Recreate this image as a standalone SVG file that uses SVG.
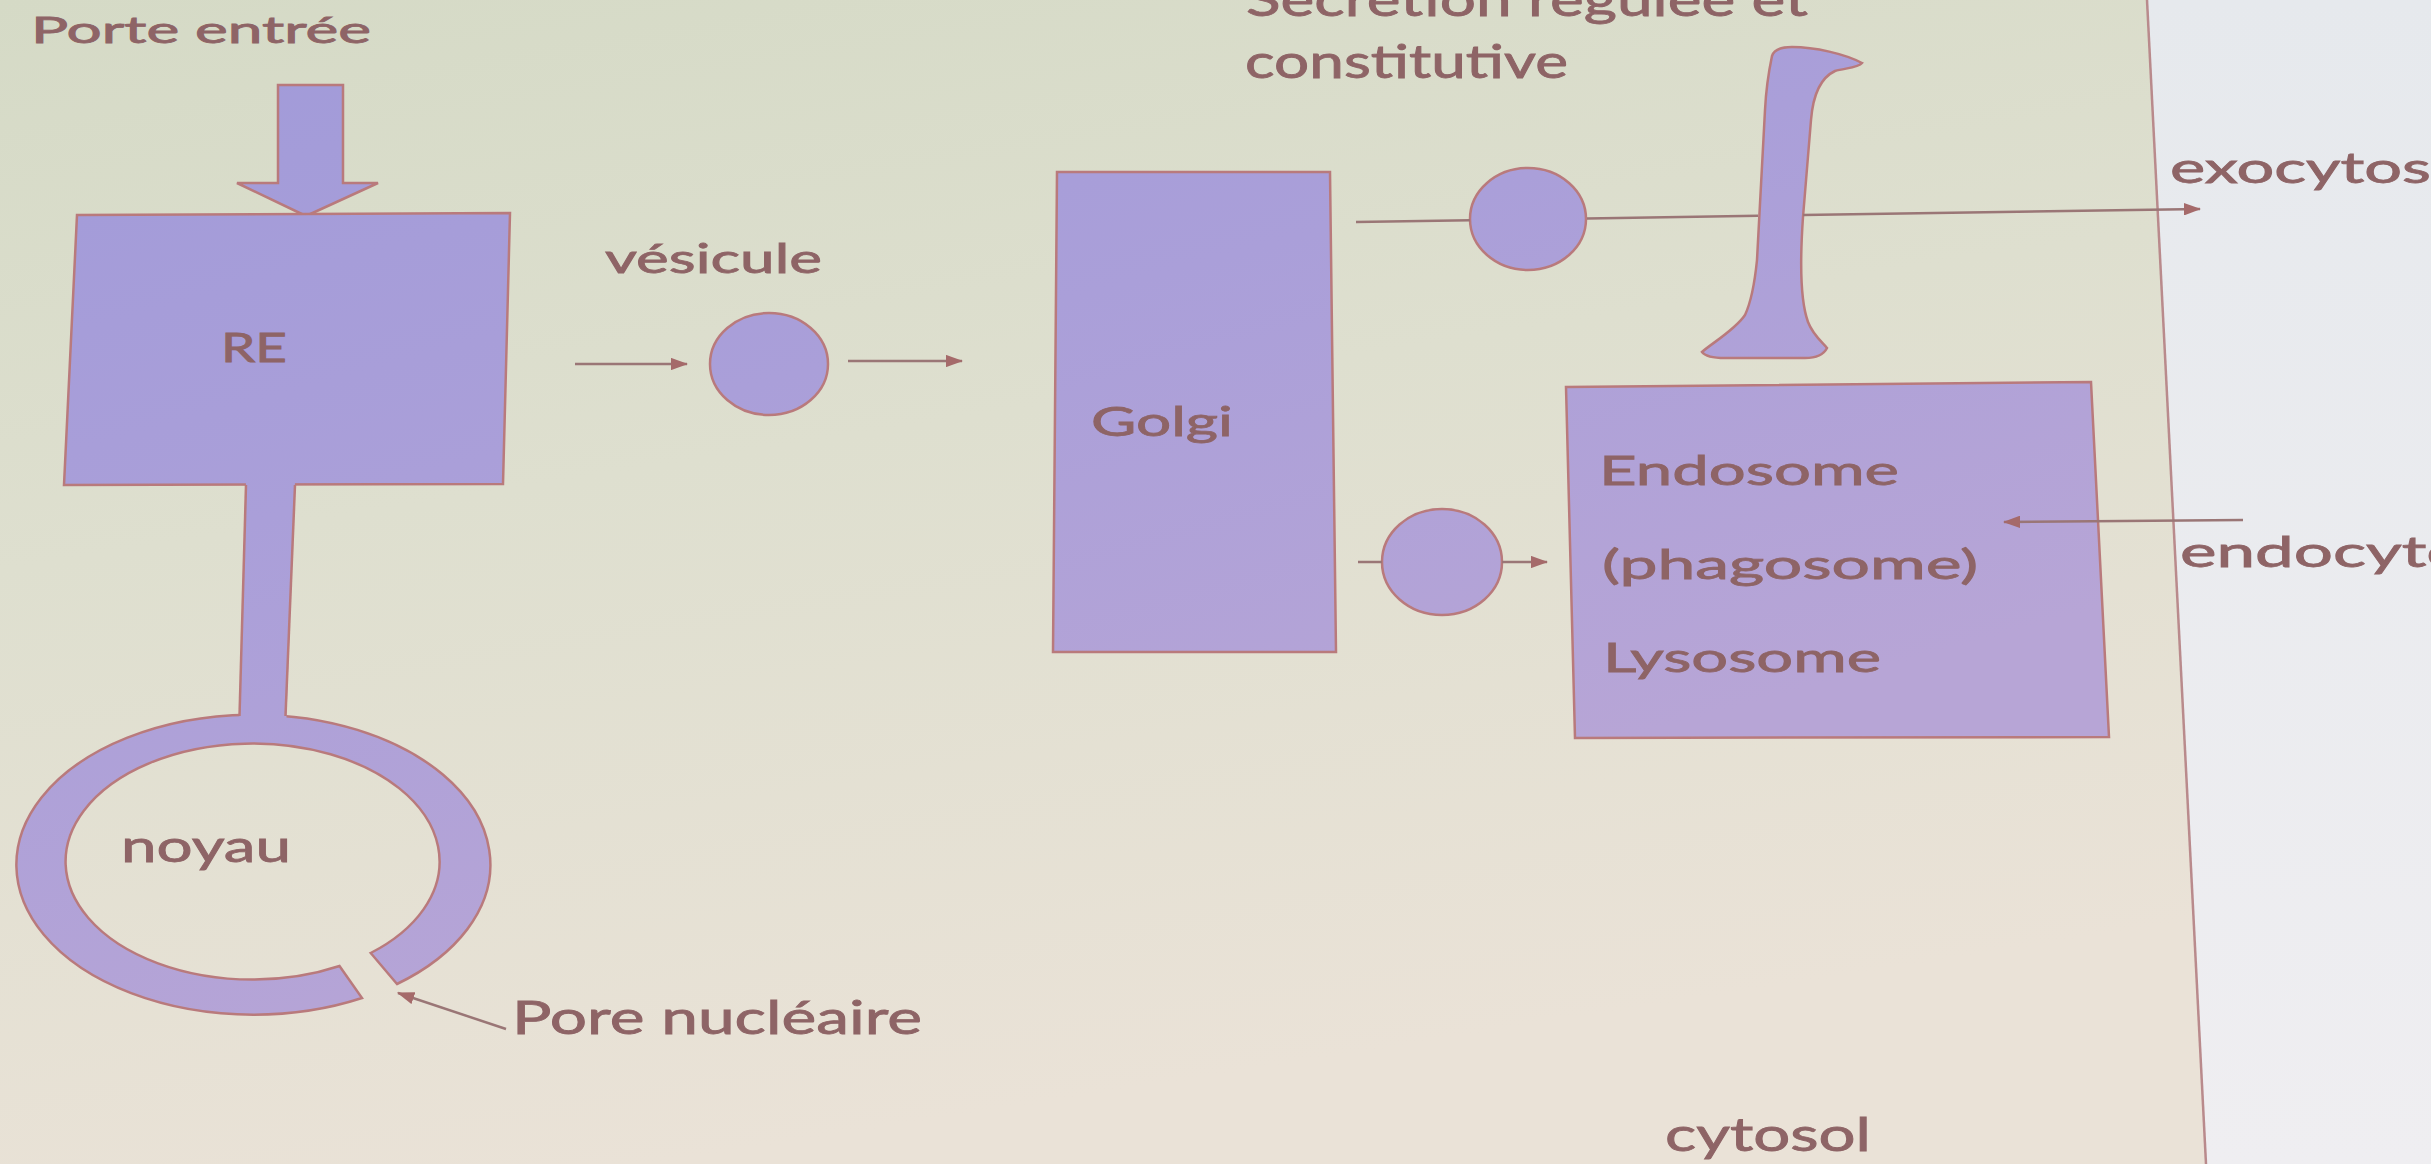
<svg xmlns="http://www.w3.org/2000/svg" width="2431" height="1164" viewBox="0 0 2431 1164">
<defs>
<linearGradient id="bgL" x1="0" y1="0" x2="0.3" y2="1">
<stop offset="0" stop-color="#d5dac6"/>
<stop offset="0.45" stop-color="#dedfcf"/>
<stop offset="1" stop-color="#eae2d7"/>
</linearGradient>
<linearGradient id="bgR" x1="0" y1="0" x2="0" y2="1">
<stop offset="0" stop-color="#e6e9ed"/>
<stop offset="1" stop-color="#efeef1"/>
</linearGradient>
<linearGradient id="shape" gradientUnits="userSpaceOnUse" x1="0" y1="0" x2="300" y2="1100">
<stop offset="0" stop-color="#a09ad9"/>
<stop offset="0.5" stop-color="#aa9fd9"/>
<stop offset="1" stop-color="#b7a5d6"/>
</linearGradient>
<marker id="ah" markerWidth="7" markerHeight="5" refX="6.5" refY="2.5" orient="auto" markerUnits="strokeWidth">
<path d="M0,0 L7,2.5 L0,5 Z" fill="#a56a6a"/>
</marker>
<style>
.s{fill:url(#shape);stroke:#b97a7c;stroke-width:2.5}
.t{font-family:Lato,"Liberation Sans",sans-serif;fill:#8e6466;stroke:#8e6466;stroke-width:0.8}
.c{fill:none;stroke:#9a7676;stroke-width:2.5}
</style>
</defs>
<rect x="0" y="0" width="2431" height="1164" fill="url(#bgR)"/>
<polygon points="0,0 2147,0 2206,1164 0,1164" fill="url(#bgL)"/>
<line x1="2147" y1="0" x2="2206" y2="1164" stroke="#b98a8c" stroke-width="2.5"/>

<g id="porte-entree">
<polygon class="s" points="278,85 343,85 343,183 378,183 306,216 237,183 278,183"/>
<text class="t" x="31" y="43" font-size="36" textLength="340" lengthAdjust="spacingAndGlyphs">Porte entrée</text>
</g>

<g id="re">
<polygon class="s" points="77,215 510,213 503,484 64,485"/>
<text class="t" x="221" y="362" font-size="40" textLength="66" lengthAdjust="spacingAndGlyphs">RE</text>
</g>

<g id="noyau">
<path class="s" d="M397,984 A237 150 0 1 0 362,998 L339.5,966 A187 118 0 1 1 370.7,953 Z"/>
<polygon points="246,481 295,481 286,730 239,730" fill="url(#shape)"/>
<line x1="246" y1="485" x2="239.5" y2="716" stroke="#b97a7c" stroke-width="2.5"/>
<line x1="295" y1="485" x2="285.5" y2="716" stroke="#b97a7c" stroke-width="2.5"/>
<text class="t" x="121" y="862" font-size="45" textLength="170" lengthAdjust="spacingAndGlyphs">noyau</text>
</g>

<g id="pore-label">
<text class="t" x="512" y="1034" font-size="46" textLength="410" lengthAdjust="spacingAndGlyphs">Pore nucléaire</text>
</g>

<g id="vesicule-1">
<ellipse class="s" cx="769" cy="364" rx="59" ry="51"/>
<text class="t" x="605" y="273" font-size="40" textLength="217" lengthAdjust="spacingAndGlyphs">vésicule</text>
</g>

<g id="golgi">
<polygon class="s" points="1057,172 1330,172 1336,652 1053,652"/>
<text class="t" x="1091" y="436" font-size="41" textLength="142" lengthAdjust="spacingAndGlyphs">Golgi</text>
</g>

<g id="secretion-label">
<text class="t" x="1246" y="16" font-size="46" textLength="562" lengthAdjust="spacingAndGlyphs">Sécrétion régulée et</text>
<text class="t" x="1245" y="78" font-size="46" textLength="323" lengthAdjust="spacingAndGlyphs">constitutive</text>
</g>

<g id="vesicule-2">
<ellipse class="s" cx="1528" cy="219" rx="58" ry="51"/>
</g>

<g id="membrane">
<path class="s" d="M1772,56 C1774,50 1782,47 1792,47 C1815,47 1845,54 1862,63 C1858,68 1845,68 1835,71 C1820,78 1813,95 1811,120 L1803,217 C1800,260 1800,300 1808,322 C1813,335 1822,342 1827,348 C1823,356 1815,358 1805,358 L1725,358 C1712,358 1705,356 1702,352 C1712,343 1735,330 1745,315 C1752,300 1755,280 1757,260 L1765,110 C1766,90 1768,75 1772,56 Z"/>
</g>

<g id="vesicule-3">
<ellipse class="s" cx="1442" cy="562" rx="60" ry="53"/>
</g>

<g id="endosome">
<polygon class="s" points="1566,387 2091,382 2109,737 1575,738"/>
<text class="t" x="1599" y="485" font-size="41" textLength="300" lengthAdjust="spacingAndGlyphs">Endosome</text>
<text class="t" x="1602" y="579" font-size="41" textLength="376" lengthAdjust="spacingAndGlyphs">(phagosome)</text>
<text class="t" x="1603" y="672" font-size="41" textLength="278" lengthAdjust="spacingAndGlyphs">Lysosome</text>
</g>

<g id="exocytose-label">
<text class="t" x="2170" y="183" font-size="42" textLength="296" lengthAdjust="spacingAndGlyphs">exocytose</text>
</g>

<g id="endocytose-label">
<text class="t" x="2180" y="567" font-size="43" textLength="352" lengthAdjust="spacingAndGlyphs">endocytose</text>
</g>

<g id="cytosol-label">
<text class="t" x="1665" y="1151" font-size="46" textLength="206" lengthAdjust="spacingAndGlyphs">cytosol</text>
</g>

<g id="connectors">
<path class="c" d="M575,364 L687,364" marker-end="url(#ah)"/>
<path class="c" d="M848,361 L962,361" marker-end="url(#ah)"/>
<path class="c" d="M1356,222 L1470,220.2 M1587,218.4 L1758,215.8 M1803,215.1 L2200,209" stroke="#8c7a76" marker-end="url(#ah)"/>
<path class="c" d="M1358,562 L1382,562 M1502,562 L1547,562" marker-end="url(#ah)"/>
<path class="c" d="M2243,520 L2004,522" marker-end="url(#ah)"/>
<path class="c" d="M506,1029 L398,993" marker-end="url(#ah)"/>
</g>
</svg>
